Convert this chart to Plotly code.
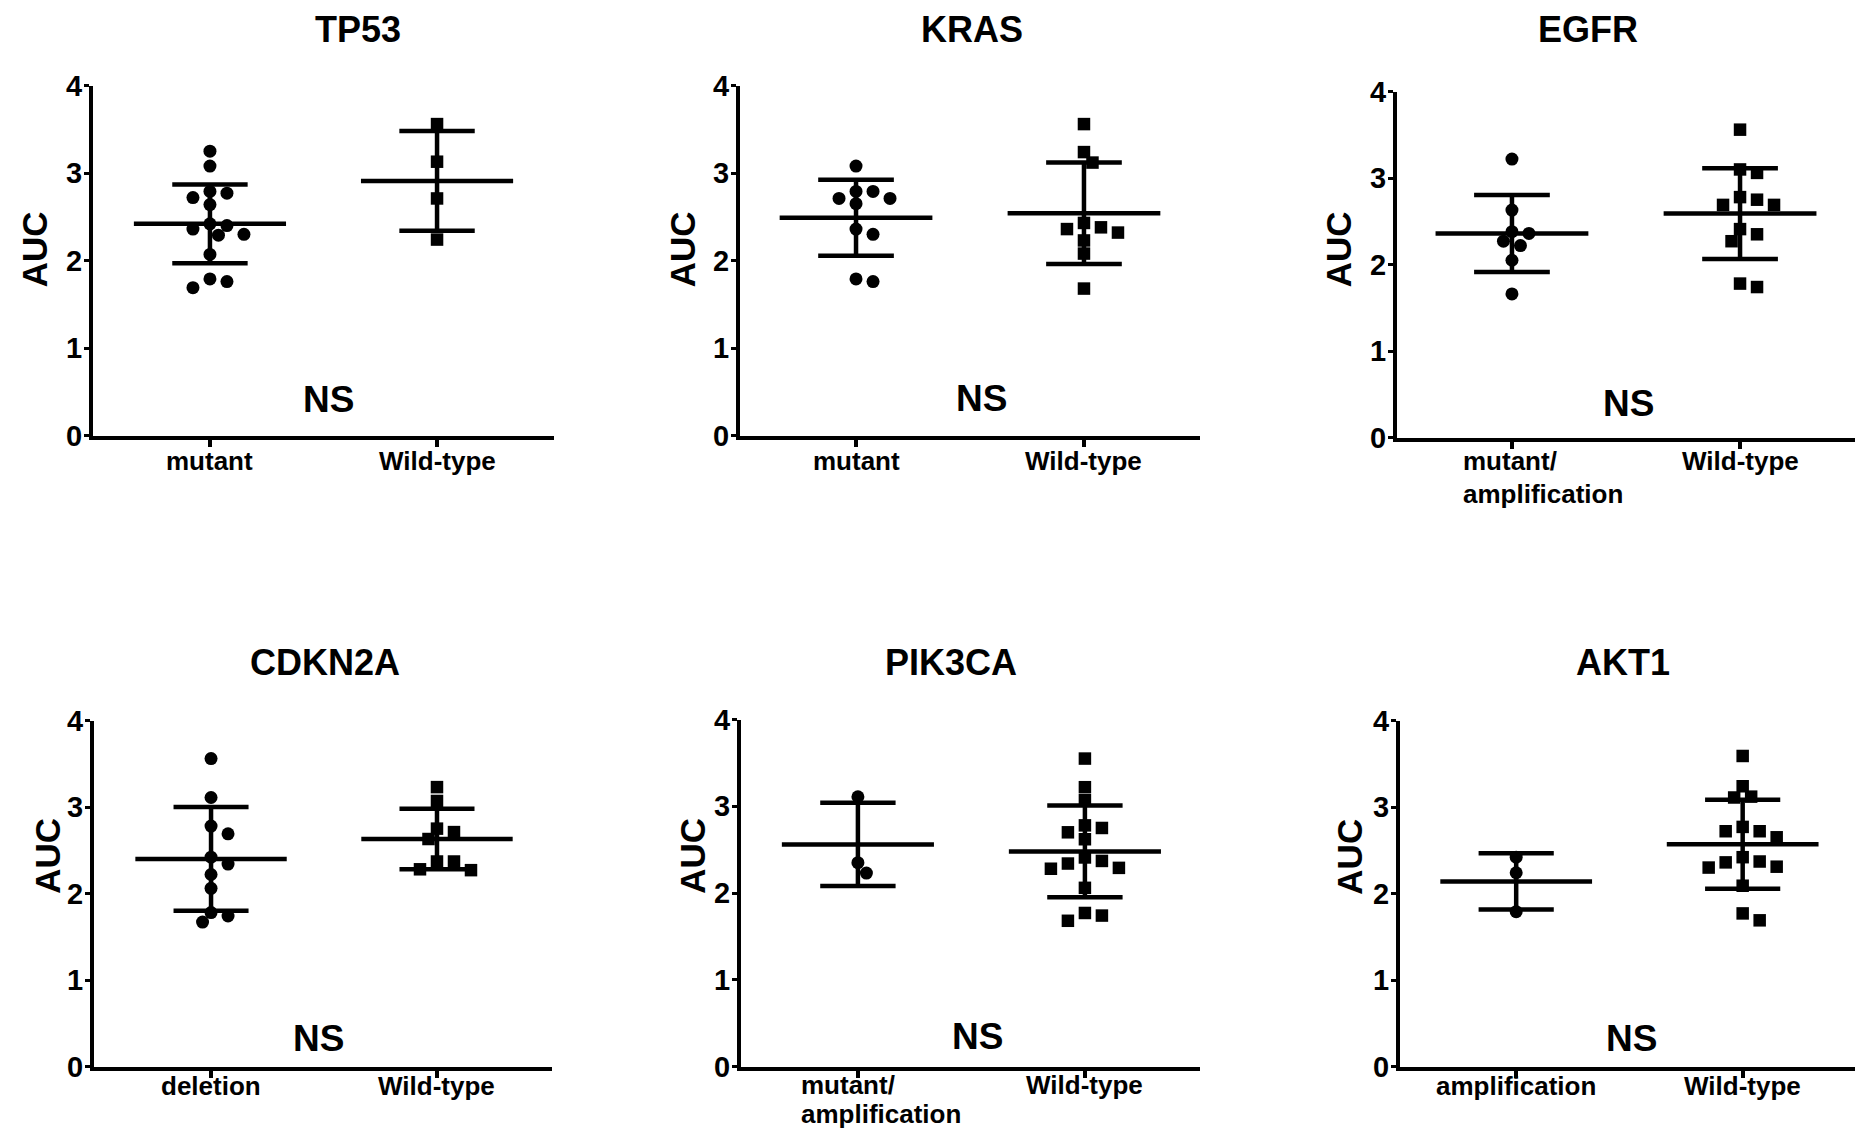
import plotly.graph_objects as go

W, H = 1855, 1138
FONT = "Liberation Sans, Arial, sans-serif"

# ---------------- data ----------------
genes = ["TP53", "KRAS", "EGFR", "CDKN2A", "PIK3CA", "AKT1"]
group_labels = [
    ["mutant", "Wild-type"],
    ["mutant", "Wild-type"],
    ["mutant/<br>amplification", "Wild-type"],
    ["deletion", "Wild-type"],
    ["mutant/<br>amplification", "Wild-type"],
    ["amplification", "Wild-type"],
]
y_ticks = [0, 1, 2, 3, 4]
y_label = "AUC"
sig_label = "NS"

tp53_mut = [3.25, 3.08, 2.79, 2.72, 2.77, 2.64, 2.40, 2.36, 2.42, 2.29, 2.30, 2.07, 1.79, 1.76, 1.69]
tp53_wt = [3.56, 3.13, 2.71, 2.24]
kras_mut = [3.08, 2.79, 2.79, 2.71, 2.71, 2.65, 2.36, 2.30, 1.76, 1.79]
kras_wt = [3.56, 3.24, 3.12, 2.43, 2.38, 2.36, 2.32, 2.23, 2.08, 1.68]
egfr_mut = [3.22, 2.63, 2.36, 2.38, 2.27, 2.22, 2.05, 1.66]
egfr_wt = [3.56, 3.10, 3.06, 2.75, 2.78, 2.69, 2.69, 2.41, 2.35, 2.27, 1.74, 1.78]
cdkn2a_del = [3.56, 3.11, 2.78, 2.69, 2.42, 2.34, 2.22, 2.06, 1.78, 1.74, 1.67]
cdkn2a_wt = [3.23, 3.07, 2.75, 2.71, 2.63, 2.37, 2.37, 2.27, 2.28]
pik3ca_mut = [3.11, 2.35, 2.23]
pik3ca_wt = [3.55, 3.22, 3.07, 2.78, 2.75, 2.70, 2.62, 2.41, 2.37, 2.34, 2.28, 2.29, 2.06, 1.77, 1.74, 1.68]
akt1_amp = [2.42, 2.24, 1.79]
akt1_wt = [3.59, 3.24, 3.11, 3.12, 2.77, 2.72, 2.72, 2.65, 2.42, 2.37, 2.36, 2.30, 2.31, 2.09, 1.77, 1.69]

values = [
    [tp53_mut, tp53_wt],
    [kras_mut, kras_wt],
    [egfr_mut, egfr_wt],
    [cdkn2a_del, cdkn2a_wt],
    [pik3ca_mut, pik3ca_wt],
    [akt1_amp, akt1_wt],
]
means = [[2.42, 2.91], [2.49, 2.54], [2.36, 2.59], [2.40, 2.63], [2.56, 2.48], [2.14, 2.57]]
sds = [[0.45, 0.57], [0.435, 0.58], [0.445, 0.525], [0.60, 0.35], [0.48, 0.53], [0.325, 0.515]]

# ---------------- layout geometry (pixels) ----------------
# (left, right, top(value 4), bottom(value 0))
panels = [
    (93, 554, 71.6, 431.7),
    (740, 1200, 71.6, 431.7),
    (1397, 1855, 77.8, 433.7),
    (94, 552, 724.9, 1080.9),
    (741, 1200, 723.9, 1080.9),
    (1400, 1855, 724.9, 1080.9),
]
x_ranges = [(-0.515, 1.515), (-0.509, 1.509), (-0.504, 1.504),
            (-0.518, 1.509), (-0.515, 1.507), (-0.513, 1.496)]
title_pos = [(358, 13.5), (972, 13.5), (1588, 13.5), (325, 665), (951, 665), (1623, 665)]
ns_pos = [(328, 394.6), (981, 393.6), (1628, 398.8), (318, 1052), (977, 1050), (1631, 1052)]
auc_pos = [(34, 240), (682, 240), (1338, 240), (48, 864), (693, 864), (1350, 865)]
label_lines_y = [(458, 492), (458, 492), (458, 492),
                 (1101, 1130), (1099.5, 1130), (1101, 1130)]
multiline_shift = [0, 0, -50, 0, -58, 0]

MARK = 13
STEP = 8.5


def beeswarm(vals, ppu_y):
    order = sorted(range(len(vals)), key=lambda k: -vals[k])
    placed = []
    offs = [0.0] * len(vals)
    for idx in order:
        v = vals[idx]
        k = 0
        while True:
            cand = [0] if k == 0 else [k * STEP, -k * STEP]
            ok_off = None
            for off in cand:
                good = True
                for po, pv in placed:
                    dy = (v - pv) * ppu_y
                    if (off - po) ** 2 + dy ** 2 < (MARK - 0.5) ** 2:
                        good = False
                        break
                if good:
                    ok_off = off
                    break
            if ok_off is not None:
                break
            k += 1
        placed.append((ok_off, v))
        offs[idx] = ok_off
    return offs


fig = go.Figure()
layout = dict(
    width=W, height=H, autosize=False,
    margin=dict(l=0, r=0, t=0, b=0),
    paper_bgcolor="white", plot_bgcolor="white",
    showlegend=False,
    annotations=[],
)

for i, gene in enumerate(genes):
    n = i + 1
    xs = "" if n == 1 else str(n)
    xa, ya = "x" + xs, "y" + xs
    px0, px1, py0, py1 = panels[i]
    xr = x_ranges[i]
    ppu_x = (px1 - px0) / (xr[1] - xr[0])
    ppu_y = (py1 - py0) / 4.0

    for g in range(2):
        vals = values[i][g]
        offs = beeswarm(vals, ppu_y)
        fig.add_trace(go.Scatter(
            x=[g + o / ppu_x for o in offs], y=vals, mode="markers",
            marker=dict(symbol="circle" if g == 0 else "square",
                        size=MARK if g == 0 else MARK - 0.5,
                        color="black", line=dict(width=0)),
            xaxis=xa, yaxis=ya, hoverinfo="skip", cliponaxis=False,
        ))
    for g in range(2):
        m, s = means[i][g], sds[i][g]
        fig.add_trace(go.Scatter(
            x=[g - 0.335, g + 0.335, None, g - 0.166, g + 0.166, None,
               g - 0.166, g + 0.166, None, g, g],
            y=[m, m, None, m + s, m + s, None, m - s, m - s, None, m - s, m + s],
            mode="lines", line=dict(color="black", width=4.5),
            xaxis=xa, yaxis=ya, hoverinfo="skip",
        ))

    layout["xaxis" + xs] = dict(
        domain=[px0 / W, px1 / W], range=list(xr), anchor=ya,
        tickvals=[0, 1], showticklabels=False,
        showline=True, linewidth=4, linecolor="black",
        ticks="outside", ticklen=7, tickwidth=4, tickcolor="black",
        showgrid=False, zeroline=False, fixedrange=True,
    )
    layout["yaxis" + xs] = dict(
        domain=[1 - py1 / H, 1 - py0 / H], range=[0, 4], anchor=xa,
        tickvals=y_ticks, ticktext=[str(t) for t in y_ticks],
        showline=True, linewidth=4, linecolor="black",
        ticks="outside", ticklen=5, tickwidth=3, tickcolor="black",
        ticklabelstandoff=-4,
        tickfont=dict(family=FONT, size=29, color="black", weight="bold"),
        showgrid=False, zeroline=False, fixedrange=True,
    )
    # category labels (multi-line ones are left-aligned blocks)
    for g in range(2):
        parts = group_labels[i][g].split("<br>")
        multi = len(parts) > 1
        for li, part in enumerate(parts):
            layout["annotations"].append(dict(
                text=part, x=g, xref=xa, y=1 - label_lines_y[i][li] / H, yref="paper",
                xanchor="left" if multi else "center", yanchor="middle",
                xshift=multiline_shift[i] if multi else 0,
                showarrow=False, borderpad=0,
                font=dict(family=FONT, size=26, color="black", weight="bold"),
            ))
    tx, ty = title_pos[i]
    layout["annotations"].append(dict(
        text=gene, x=tx / W, y=1 - ty / H, xref="paper", yref="paper",
        xanchor="center", yanchor="middle", showarrow=False,
        font=dict(family=FONT, size=36, color="black", weight="bold"),
    ))
    nx, ny = ns_pos[i]
    layout["annotations"].append(dict(
        text=sig_label, x=nx / W, y=1 - ny / H, xref="paper", yref="paper",
        xanchor="center", yanchor="middle", showarrow=False,
        font=dict(family=FONT, size=37, color="black", weight="bold"),
    ))
    ax_, ay_ = auc_pos[i]
    layout["annotations"].append(dict(
        text=y_label, x=ax_ / W, y=1 - ay_ / H, xref="paper", yref="paper",
        xanchor="center", yanchor="middle", showarrow=False, textangle=-90,
        font=dict(family=FONT, size=35, color="black", weight="bold"),
    ))

fig.update_layout(**layout)
fig.write_html("out.html")
